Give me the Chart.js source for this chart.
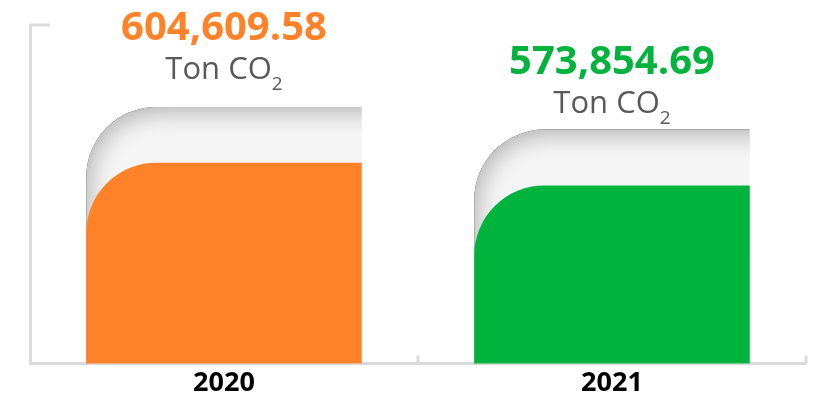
<!DOCTYPE html>
<html>
<head>
<meta charset="utf-8">
<script src="https://cdn.jsdelivr.net/npm/chart.js@4.4.0/dist/chart.umd.min.js"></script>
<style>
  html, body { margin: 0; padding: 0; background: #fff; }
  #wrap { width: 815px; height: 399px; }
</style>
</head>
<body>
<div id="wrap"><canvas id="emission_chart"></canvas></div>
<script>
const years = ['2020', '2021'];
const emissions = [604609.58, 573854.69];
const backdrop = [680000, 649500];
const barColors = ['#FF8229', '#00B33C'];
const unitText = 'Ton CO';
const unitSub = '2';

const chartCanvas = document.getElementById('emission_chart');

function cornerPath(ctx, left, top, right, bottom, r) {
  ctx.moveTo(left, bottom);
  ctx.lineTo(left, top + r);
  ctx.arc(left + r, top + r, r, Math.PI, 1.5 * Math.PI);
  ctx.lineTo(right, top);
  ctx.lineTo(right, bottom);
  ctx.closePath();
}

// soft inner shadow (top and left) on the grey backdrop bars
const insetShadow = {
  id: 'insetShadow',
  afterDatasetDraw(chart, args) {
    if (args.index !== 1) return;
    const ctx = chart.ctx;
    const area = chart.chartArea;
    args.meta.data.forEach(bar => {
      const p = bar.getProps(['x', 'y', 'width', 'base'], true);
      const left = p.x - p.width / 2, right = p.x + p.width / 2;
      const bottom = Math.min(p.base, area.bottom);
      ctx.save();
      ctx.beginPath();
      cornerPath(ctx, left, p.y, right, bottom, 70);
      ctx.clip();
      ctx.beginPath();
      ctx.rect(left - 300, p.y - 300, p.width + 600, bottom - p.y + 600);
      cornerPath(ctx, left, p.y, right + 200, bottom + 200, 70);
      ctx.shadowColor = 'rgba(0,0,0,0.28)';
      ctx.shadowBlur = 24;
      ctx.shadowOffsetX = 3;
      ctx.shadowOffsetY = 5;
      ctx.fillStyle = '#000';
      ctx.fill('evenodd');
      ctx.restore();
    });
  }
};

// value + unit labels above each bar, and inward ticks on the axes
const valueLabels = {
  id: 'valueLabels',
  afterDatasetsDraw(chart) {
    const ctx = chart.ctx;
    const backMeta = chart.getDatasetMeta(1);
    const gaps = [67, 56];
    ctx.save();
    ctx.textBaseline = 'alphabetic';
    emissions.forEach((v, i) => {
      const bar = backMeta.data[i];
      const x = bar.x;
      const base = bar.y - gaps[i];
      ctx.font = 'bold 40px "Open Sans"';
      ctx.fillStyle = barColors[i];
      ctx.textAlign = 'center';
      ctx.fillText(v.toLocaleString('en-US', { minimumFractionDigits: 2, maximumFractionDigits: 2 }), x, base);

      ctx.font = '31px "Open Sans"';
      const w1 = ctx.measureText(unitText).width;
      ctx.font = '19px "Open Sans"';
      const w2 = ctx.measureText(unitSub).width;
      const start = x - (w1 + w2) / 2;
      ctx.textAlign = 'left';
      ctx.fillStyle = '#595959';
      ctx.font = '31px "Open Sans"';
      ctx.fillText(unitText, start, base + 39);
      ctx.font = '19px "Open Sans"';
      ctx.fillText(unitSub, start + w1, base + 50);
    });

    const area = chart.chartArea;
    const xs = chart.scales.x;
    const ys = chart.scales.y;
    ctx.strokeStyle = '#DADADA';
    ctx.lineWidth = 3;
    ctx.beginPath();
    [0.5, 1.5].forEach(v => {
      const px = xs.getPixelForValue(v);
      ctx.moveTo(px, area.bottom);
      ctx.lineTo(px, area.bottom - 8);
    });
    const ty = ys.getPixelForValue(ys.max);
    ctx.moveTo(area.left, ty);
    ctx.lineTo(area.left + 20, ty);
    ctx.stroke();
    ctx.restore();
  }
};

new Chart(chartCanvas, {
  type: 'bar',
  data: {
    labels: years,
    datasets: [
      {
        data: emissions,
        backgroundColor: barColors,
        borderRadius: { topLeft: 70, topRight: 0, bottomLeft: 0, bottomRight: 0 },
        borderSkipped: false,
        categoryPercentage: 1,
        barPercentage: 0.71
      },
      {
        data: backdrop,
        backgroundColor: '#F5F5F5',
        borderRadius: { topLeft: 70, topRight: 0, bottomLeft: 0, bottomRight: 0 },
        borderSkipped: false,
        categoryPercentage: 1,
        barPercentage: 0.71
      }
    ]
  },
  options: {
    responsive: true,
    maintainAspectRatio: false,
    animation: false,
    grouped: false,
    layout: { padding: { top: 25, left: 22, right: 9, bottom: 0 } },
    plugins: {
      legend: { display: false },
      tooltip: { enabled: false }
    },
    scales: {
      x: {
        grid: { display: false },
        border: { display: true, color: '#DADADA', width: 3 },
        afterFit(scale) { scale.height = 35.5; },
        ticks: {
          padding: -4,
          color: '#000',
          font: { family: 'Open Sans', size: 27, weight: 'bold' }
        }
      },
      y: {
        min: 333000,
        max: 791000,
        grid: { display: false },
        border: { display: true, color: '#DADADA', width: 3 },
        ticks: { display: false }
      }
    }
  },
  plugins: [insetShadow, valueLabels]
});
</script>
</body>
</html>
